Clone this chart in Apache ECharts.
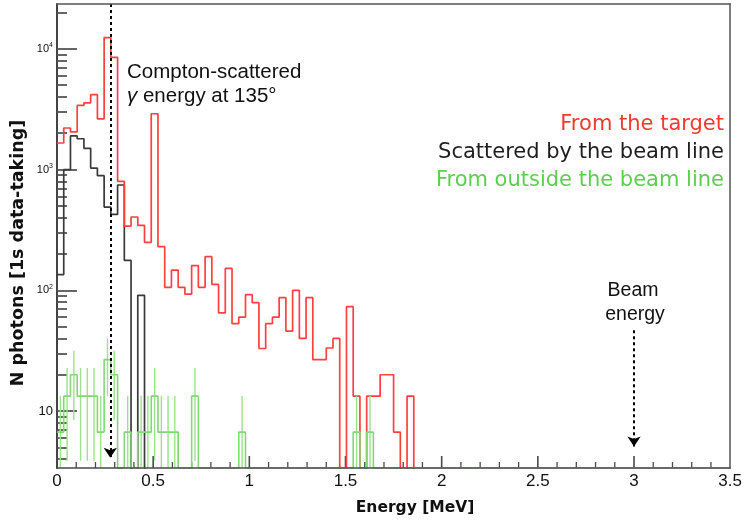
<!DOCTYPE html>
<html>
<head>
<meta charset="utf-8">
<script src="https://cdn.jsdelivr.net/npm/echarts@6/dist/echarts.min.js"></script>
<style>
  html, body { margin: 0; padding: 0; background: #fff; }
  #chart { width: 745px; height: 523px; }
</style>
</head>
<body>
<div id="chart"></div>
<script>
// Photon energy spectra, 100 bins of 0.035 MeV from 0 to 3.5 MeV.
const BIN_WIDTH = 0.035;

// Photons coming from the target
const fromTarget = [
  1660, 2210, 2050, 3400, 3570, 4170, 2630, 12400, 8500, 800,
  340, 405, 345, 250, 2900, 230, 106, 147, 106, 93,
  160, 106, 190, 112, 65, 152, 53, 60, 92, 79,
  33, 53, 60, 87, 46, 100, 40, 87, 26.7, 26.7,
  33.3, 40, 0, 73.3, 13.3, 0, 13.3, 13.3, 20, 20,
  6.7, 0, 13.3, 0, 0, 0, 0, 0, 0, 0,
  0, 0, 0, 0, 0, 0, 0, 0, 0, 0,
  0, 0, 0, 0, 0, 0, 0, 0, 0, 0,
  0, 0, 0, 0, 0, 0, 0, 0, 0, 0,
  0, 0, 0, 0, 0, 0, 0, 0, 0, 0
];

// Photons scattered by the beam line
const beamLine = [
  135, 1000, 1900, 1800, 1500, 1030, 890, 489, 425, 745,
  177, 0, 91, 0, 0, 0, 0, 0, 0, 0,
  0, 0, 0, 0, 0, 0, 0, 0, 0, 0,
  0, 0, 0, 0, 0, 0, 0, 0, 0, 0,
  0, 0, 0, 0, 0, 0, 0, 0, 0, 0,
  0, 0, 0, 0, 0, 0, 0, 0, 0, 0,
  0, 0, 0, 0, 0, 0, 0, 0, 0, 0,
  0, 0, 0, 0, 0, 0, 0, 0, 0, 0,
  0, 0, 0, 0, 0, 0, 0, 0, 0, 0,
  0, 0, 0, 0, 0, 0, 0, 0, 0, 0
];

// Photons from outside the beam line
const outsideBeamLine = [
  6.7, 13.3, 20, 13.3, 13.3, 13.3, 6.7, 26.7, 20, 0,
  6.7, 0, 6.7, 6.7, 13.3, 6.7, 6.7, 6.7, 0, 0,
  13.3, 0, 0, 0, 0, 0, 0, 6.7, 0, 0,
  0, 0, 0, 0, 0, 0, 0, 0, 0, 0,
  0, 0, 0, 0, 6.7, 0, 6.7, 0, 0, 0,
  0, 0, 0, 0, 0, 0, 0, 0, 0, 0,
  0, 0, 0, 0, 0, 0, 0, 0, 0, 0,
  0, 0, 0, 0, 0, 0, 0, 0, 0, 0,
  0, 0, 0, 0, 0, 0, 0, 0, 0, 0,
  0, 0, 0, 0, 0, 0, 0, 0, 0, 0
];

// One recorded photon corresponds to this many photons per second
const COUNT_WEIGHT = 20 / 3;

// Axis ranges and tick positions
const X_MIN = 0, X_MAX = 3.5, X_STEP = 0.5;
const xMajorTicks = [0.5, 1, 1.5, 2, 2.5, 3];
const xMinorTicks = [
  0.1, 0.2, 0.3, 0.4, 0.6, 0.7, 0.8, 0.9, 1.1, 1.2, 1.3, 1.4,
  1.6, 1.7, 1.8, 1.9, 2.1, 2.2, 2.3, 2.4, 2.6, 2.7, 2.8, 2.9,
  3.1, 3.2, 3.3, 3.4
];
const Y_MIN = 3.38, Y_MAX = 23500;
const yDecades = [1, 2, 3, 4];            // 10, 10^2, 10^3, 10^4
const yMinorFactors = [2, 3, 4, 5, 6, 7, 8, 9];

// Annotation energies
const comptonEnergy = 0.277;  // MeV
const beamEnergy = 3.0;       // MeV

// ---------------------------------------------------------------
// Each value holds over its bin [i*w, (i+1)*w]; empty bins drop to `floor`.
function stepPoints(values, floor) {
  const pts = values.map((v, i) => [+(i * BIN_WIDTH).toFixed(4), v > 0 ? v : floor]);
  pts.push([values.length * BIN_WIDTH, pts[pts.length - 1][1]]);
  return pts;
}
const BELOW_AXIS = Y_MIN / 2;   // empty bins of the upper histograms fall out of view

const errorBars = [];
outsideBeamLine.forEach((v, i) => {
  if (v > 0) {
    const err = Math.sqrt(v * COUNT_WEIGHT);
    errorBars.push([(i + 0.5) * BIN_WIDTH, Math.max(v - err, Y_MIN), v + err]);
  }
});

const minorTickValues = [];
for (let d = 0; d <= 4; d++) {
  yMinorFactors.forEach(k => {
    const lv = Math.log10(k) + d;
    if (lv > Math.log10(Y_MIN) && lv < Math.log10(Y_MAX)) minorTickValues.push(lv);
  });
}

// Energy-axis ticks: [energy, axis floor, tick length in px]
const MAJOR_LEN = 12, MINOR_LEN = 6;
const energyTicks = xMajorTicks.map(x => [x, Y_MIN, MAJOR_LEN])
  .concat(xMinorTicks.map(x => [x, Y_MIN, MINOR_LEN]));

const SANS = '"Liberation Sans", Arial, Helvetica, sans-serif';
const tickColor = '#4a4a4a';
const frameColor = '#555';

// Plain axis used only to draw one side of the frame
function frameAxis(position, extra) {
  return Object.assign({
    type: 'value', position: position, z: 5,
    axisLine: { show: true, onZero: false, lineStyle: { color: frameColor, width: 1.5 } },
    axisTick: { show: false }, axisLabel: { show: false }, splitLine: { show: false }
  }, extra);
}

const chart = echarts.init(document.getElementById('chart'), null, { renderer: 'canvas' });

chart.setOption({
  animation: false,
  backgroundColor: '#fff',
  grid: { left: 57, right: 13, top: 4, bottom: 55, show: false },
  xAxis: [
    {
      type: 'value', min: X_MIN, max: X_MAX, interval: X_STEP, position: 'bottom', z: 5,
      axisLine: { show: true, onZero: false, lineStyle: { color: tickColor, width: 1.5 } },
      axisTick: { show: false },
      axisLabel: { color: '#111', fontSize: 17, fontFamily: SANS, margin: 5 },
      splitLine: { show: false }
    },
    frameAxis('top', { min: X_MIN, max: X_MAX })
  ],
  yAxis: [
    {
      // data scale (logarithmic)
      type: 'log', logBase: 10, min: Y_MIN, max: Y_MAX,
      axisLine: { show: true, onZero: false, lineStyle: { color: '#444', width: 2 } },
      axisTick: { show: false },
      axisLabel: { show: false },
      splitLine: { show: false }
    },
    {
      // decade ticks and labels
      type: 'value', min: Math.log10(Y_MIN), max: Math.log10(Y_MAX),
      position: 'left',
      axisLine: { show: false, onZero: false },
      axisTick: { show: true, inside: true, length: 20, customValues: yDecades,
                  lineStyle: { color: '#555', width: 1.8 } },
      axisLabel: {
        customValues: yDecades, margin: 4,
        formatter: v => v === 1 ? '{t|10}' : '{b|10}{s|' + v + '}',
        rich: {
          t: { fontSize: 13, fontFamily: SANS, color: '#111' },
          b: { fontSize: 11, fontFamily: SANS, color: '#111', lineHeight: 14 },
          s: { fontSize: 7, fontFamily: SANS, color: '#111', verticalAlign: 'top', lineHeight: 8 }
        }
      },
      splitLine: { show: false }
    },
    {
      // intermediate ticks inside each decade
      type: 'value', min: Math.log10(Y_MIN), max: Math.log10(Y_MAX),
      position: 'left',
      axisLine: { show: false, onZero: false },
      axisTick: { show: true, inside: true, length: 10, customValues: minorTickValues,
                  lineStyle: { color: '#555', width: 1.8 } },
      axisLabel: { show: false },
      splitLine: { show: false }
    },
    frameAxis('right', { min: 0, max: 1 })
  ],
  series: [
    {
      // energy-axis tick marks, standing up from the lower frame
      name: 'energy ticks', type: 'custom', silent: true, clip: false, z: 1,
      data: energyTicks, encode: { x: 0, y: 1 },
      renderItem: (params, api) => {
        const p = api.coord([api.value(0), api.value(1)]);
        const len = api.value(2);
        return {
          type: 'line',
          shape: { x1: p[0], y1: p[1], x2: p[0], y2: p[1] - len },
          style: { stroke: tickColor, lineWidth: len === MAJOR_LEN ? 1.6 : 1.3 }
        };
      }
    },
    {
      name: 'From the target', type: 'line', step: 'end',
      data: stepPoints(fromTarget, BELOW_AXIS), showSymbol: false, symbol: 'none',
      lineStyle: { color: '#ff4040', width: 1.7 }, z: 3, clip: true,
      markLine: {
        silent: true, symbol: ['none', 'arrow'], symbolSize: 10,
        label: { show: false },
        lineStyle: { color: '#000', type: [3, 3], width: 2 },
        data: [
          [{ coord: [comptonEnergy, Y_MAX] }, { coord: [comptonEnergy, 4.1] }],
          [{ coord: [beamEnergy, 46.7] }, { coord: [beamEnergy, 5.1] }]
        ]
      }
    },
    {
      name: 'Scattered by the beam line', type: 'line', step: 'end',
      data: stepPoints(beamLine, BELOW_AXIS), showSymbol: false, symbol: 'none',
      lineStyle: { color: '#3a3a3a', width: 1.7 }, z: 2, clip: true
    },
    {
      name: 'From outside the beam line', type: 'line', step: 'end',
      data: stepPoints(outsideBeamLine, Y_MIN), showSymbol: false, symbol: 'none',
      lineStyle: { color: '#82d874', width: 1.6 }, z: 4, clip: true
    },
    {
      name: 'From outside the beam line (errors)', type: 'custom',
      data: errorBars, encode: { x: 0, y: [1, 2] }, clip: true, z: 4,
      renderItem: (params, api) => {
        const p1 = api.coord([api.value(0), api.value(1)]);
        const p2 = api.coord([api.value(0), api.value(2)]);
        return {
          type: 'line',
          shape: { x1: p1[0], y1: p1[1], x2: p2[0], y2: p2[1] },
          style: { stroke: '#9be38c', lineWidth: 1.4 }
        };
      }
    }
  ],
  graphic: [
    { type: 'text', x: 127, y: 72, style: { text: 'Compton-scattered', font: '20.5px ' + SANS, fill: '#111', verticalAlign: 'middle' } },
    { type: 'text', x: 127, y: 96, style: {
        text: '{i|γ} energy at 135°', font: '20.5px ' + SANS, fill: '#111', verticalAlign: 'middle',
        rich: { i: { fontStyle: 'italic', fontSize: 20.5, fontFamily: SANS, fill: '#111' } } } },
    { type: 'text', x: 633, y: 291, style: { text: 'Beam', font: '19.5px ' + SANS, fill: '#111', align: 'center', verticalAlign: 'middle' } },
    { type: 'text', x: 635, y: 315, style: { text: 'energy', font: '19.5px ' + SANS, fill: '#111', align: 'center', verticalAlign: 'middle' } },
    { type: 'text', x: 724, y: 125, style: { text: 'From the target', font: '21px "DejaVu Sans", sans-serif', fill: '#ef3a2e', align: 'right', verticalAlign: 'middle' } },
    { type: 'text', x: 724, y: 153, style: { text: 'Scattered by the beam line', font: '21px "DejaVu Sans", sans-serif', fill: '#1e1e1e', align: 'right', verticalAlign: 'middle' } },
    { type: 'text', x: 724, y: 181, style: { text: 'From outside the beam line', font: '21px "DejaVu Sans", sans-serif', fill: '#5ccf4f', align: 'right', verticalAlign: 'middle' } },
    { type: 'text', x: 415, y: 508, style: { text: 'Energy [MeV]', font: 'bold 15.5px "DejaVu Sans", Verdana, sans-serif', fill: '#111', align: 'center', verticalAlign: 'middle' } },
    { type: 'text', x: 18, y: 253, rotation: Math.PI / 2, style: { text: 'N photons [1s data-taking]', font: 'bold 17.5px "DejaVu Sans", Verdana, sans-serif', fill: '#111', align: 'center', verticalAlign: 'middle' } }
  ]
});
</script>
</body>
</html>
